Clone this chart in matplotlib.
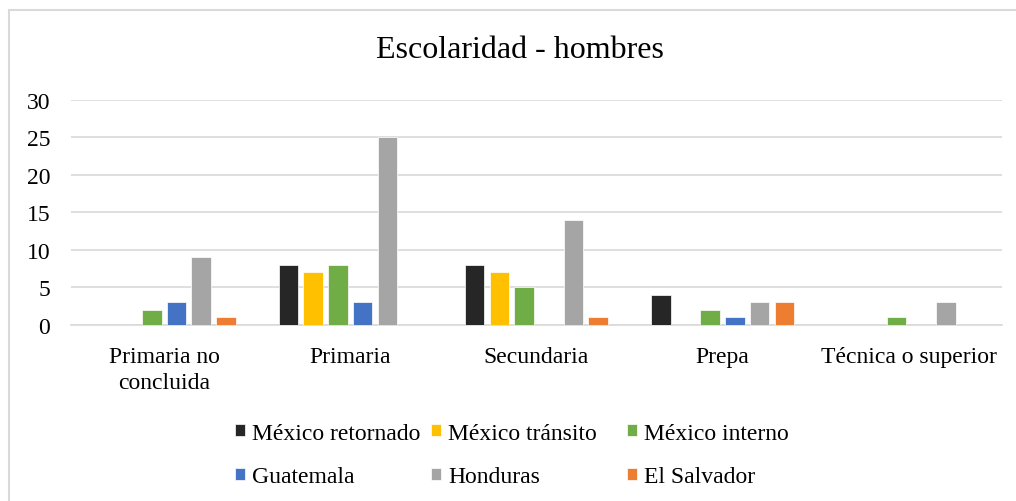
import matplotlib.pyplot as plt
import numpy as np
from matplotlib.patches import Rectangle

plt.rcParams['font.family'] = ['Liberation Serif', 'DejaVu Serif']

# Data
categorias = ['Primaria no\nconcluida', 'Primaria', 'Secundaria', 'Prepa', 'Técnica o superior']
series = ['México retornado', 'México tránsito', 'México interno',
          'Guatemala', 'Honduras', 'El Salvador']
mex_retornado = [0, 8, 8, 4, 0]
mex_transito = [0, 7, 7, 0, 0]
mex_interno = [2, 8, 5, 2, 1]
guatemala = [3, 3, 0, 1, 0]
honduras = [9, 25, 14, 3, 3]
el_salvador = [1, 0, 1, 3, 0]
colores = ['#262626', '#FFC000', '#70AD47', '#4472C4', '#A5A5A5', '#ED7D31']

valores = [mex_retornado, mex_transito, mex_interno, guatemala, honduras, el_salvador]

fig = plt.figure(figsize=(10.16, 5.02), dpi=100)
ax = fig.add_axes([0.0699, 0.3506, 0.9161, 0.4484])

# Outer border (cut off on the right and bottom like the original)
fig.patches.append(Rectangle((0.0084, -0.02), 1.1, 0.999, transform=fig.transFigure,
                             fill=False, edgecolor='#D9D9D9', linewidth=1.5))

x = np.arange(len(categorias))
step = 0.1327
ancho = 0.105
barras = []
for i, (nombre, vals, c) in enumerate(zip(series, valores, colores)):
    b = ax.bar(x + (i - 2.5) * step, vals, ancho, color=c, label=nombre,
               edgecolor='white', linewidth=0.5, zorder=3)
    barras.append(b)

ax.set_xlim(-0.5, len(categorias) - 0.5)
ax.set_ylim(0, 30)
ax.set_yticks(range(0, 31, 5))
ax.set_xticks(x)
ax.set_xticklabels(categorias, fontsize=17, linespacing=1.35)
ax.tick_params(axis='y', labelsize=17, length=0, pad=15)
ax.tick_params(axis='x', length=0, pad=15)
ax.grid(axis='y', color='#D9D9D9', linewidth=1.2, zorder=0)
for s in ['top', 'right', 'left']:
    ax.spines[s].set_visible(False)
ax.spines['bottom'].set_color('#D9D9D9')
ax.spines['bottom'].set_linewidth(1.2)

fig.text(0.512, 0.90, 'Escolaridad - hombres', ha='center', va='center', fontsize=23)

# legend: three equal-width columns, filled row by row
col_x = [0.2313, 0.4242, 0.6171]
for j in range(3):
    fig.legend([barras[j], barras[j + 3]], [series[j], series[j + 3]],
               loc='center left', bbox_to_anchor=(col_x[j], 0.0916), frameon=False,
               fontsize=17, handlelength=0.42, handleheight=0.42, handletextpad=0.3,
               labelspacing=0.95, borderpad=0, borderaxespad=0)

fig.savefig('out.png', dpi=100)
